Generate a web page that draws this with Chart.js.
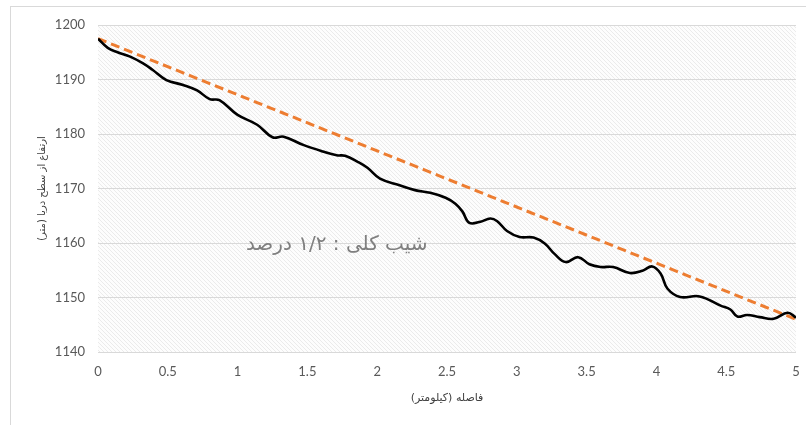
<!DOCTYPE html>
<html>
<head>
<meta charset="utf-8">
<script src="https://cdn.jsdelivr.net/npm/chart.js@4.4.0/dist/chart.umd.min.js"></script>
<style>
    html, body { margin: 0; padding: 0; background: #fff; }
    #wrap {
        position: absolute;
        left: 10px;
        top: 6px;
        width: 806px;
        height: 430px;
        border-left: 1px solid #d9d9d9;
        border-top: 1px solid #d9d9d9;
    }
    #box { position: absolute; left: 0; top: 0; width: 806px; height: 425px; }
</style>
</head>
<body>
<div id="wrap"></div>
<div id="box"><canvas id="profileChart" width="806" height="425"></canvas></div>
<script>
// Data for the chart (distance in km, elevation in m)
const distances = [0, 0.07, 0.14, 0.23, 0.32, 0.39, 0.49, 0.61, 0.71, 0.80, 0.87,
    1.00, 1.14, 1.25, 1.33, 1.47, 1.61, 1.71, 1.77, 1.86, 1.93,
    2.02, 2.16, 2.27, 2.38, 2.49, 2.56, 2.61, 2.66, 2.74, 2.81, 2.86, 2.93,
    3.02, 3.12, 3.20, 3.27, 3.35, 3.44, 3.52, 3.60, 3.69, 3.81, 3.90, 3.97,
    4.03, 4.08, 4.17, 4.31, 4.46, 4.53, 4.58, 4.65, 4.74, 4.84, 4.94, 5.00];
const elevations = [1197.5, 1195.8, 1195.0, 1194.2, 1193.0, 1191.8, 1189.9, 1189.0, 1188.0, 1186.4, 1186.2,
    1183.5, 1181.7, 1179.4, 1179.5, 1178.0, 1176.8, 1176.1, 1176.0, 1174.9, 1173.8,
    1171.8, 1170.6, 1169.7, 1169.2, 1168.3, 1167.2, 1165.8, 1163.7, 1163.9, 1164.5, 1164.0, 1162.2,
    1161.1, 1161.0, 1159.9, 1158.0, 1156.5, 1157.4, 1156.1, 1155.6, 1155.6, 1154.5, 1154.9, 1155.7,
    1154.4, 1151.6, 1150.1, 1150.2, 1148.5, 1147.8, 1146.5, 1146.8, 1146.4, 1146.1, 1147.2, 1146.3];
const trendDistances = [0, 5];
const trendElevations = [1197.5, 1146];
const xTicks = [0, 0.5, 1, 1.5, 2, 2.5, 3, 3.5, 4, 4.5, 5];
const yTicks = [1140, 1150, 1160, 1170, 1180, 1190, 1200];
const slopeNote = { text: 'شیب کلی : ۱/۲ درصد', x: 1.71, y: 1159.6 };

// hatched background for the plot area
function makeHatch() {
    const c = document.createElement('canvas');
    c.width = 4; c.height = 4;
    const g = c.getContext('2d');
    g.fillStyle = '#fdfdfd';
    g.fillRect(0, 0, 4, 4);
    g.strokeStyle = '#ebebeb';
    g.lineWidth = 1;
    g.beginPath();
    g.moveTo(0, 0); g.lineTo(4, 4);
    g.moveTo(-1, 3); g.lineTo(1, 5);
    g.moveTo(3, -1); g.lineTo(5, 1);
    g.stroke();
    return c;
}

const hatchPlugin = {
    id: 'hatch',
    beforeDraw(chart) {
        const { ctx, chartArea } = chart;
        ctx.save();
        ctx.fillStyle = ctx.createPattern(makeHatch(), 'repeat');
        ctx.fillRect(chartArea.left, chartArea.top, chartArea.right - chartArea.left, chartArea.bottom - chartArea.top);
        ctx.restore();
    }
};

const notePlugin = {
    id: 'note',
    afterDatasetsDraw(chart) {
        const { ctx, scales } = chart;
        ctx.save();
        ctx.font = '20px "DejaVu Sans"';
        ctx.fillStyle = '#7f7f7f';
        ctx.textAlign = 'center';
        ctx.textBaseline = 'middle';
        ctx.direction = 'rtl';
        ctx.fillText(slopeNote.text, scales.x.getPixelForValue(slopeNote.x), scales.y.getPixelForValue(slopeNote.y));
        ctx.restore();
    }
};

const ctxProfile = document.getElementById('profileChart').getContext('2d');
const profileChart = new Chart(ctxProfile, {
    type: 'line',
    data: {
        datasets: [{
            label: 'Elevation',
            data: distances.map((d, i) => ({ x: d, y: elevations[i] })),
            borderColor: '#000000',
            borderWidth: 2.6,
            pointRadius: 0,
            tension: 0.4,
            fill: false
        }, {
            label: 'Trend',
            data: trendDistances.map((d, i) => ({ x: d, y: trendElevations[i] })),
            borderColor: '#ed7d31',
            borderWidth: 3,
            borderDash: [9, 5],
            pointRadius: 0,
            fill: false
        }]
    },
    options: {
        responsive: false,
        animation: false,
        layout: { padding: { left: 10, right: 10, top: 25, bottom: 0 } },
        plugins: {
            legend: { display: false },
            tooltip: { enabled: false }
        },
        scales: {
            x: {
                type: 'linear',
                min: 0,
                max: 5,
                afterBuildTicks: (axis) => { axis.ticks = xTicks.map(v => ({ value: v })); },
                afterFit: (axis) => {
                    axis.height = 73;
                    axis.paddingLeft = 0;
                    axis.paddingRight = 0;
                },
                grid: { display: false, drawTicks: false },
                border: { display: false },
                ticks: {
                    color: '#595959', font: { family: 'Lato', size: 13 }, padding: 12,
                    autoSkip: false, maxRotation: 0, callback: (v) => String(v)
                },
                title: {
                    display: true,
                    text: 'فاصله (کیلومتر)',
                    color: '#404040',
                    font: { family: 'DejaVu Sans', size: 11 },
                    padding: { top: 4, bottom: 20 }
                }
            },
            y: {
                min: 1140,
                max: 1200,
                afterBuildTicks: (axis) => { axis.ticks = yTicks.map(v => ({ value: v })); },
                afterFit: (axis) => { axis.width = 88; },
                grid: { color: '#d9d9d9', lineWidth: 1, drawTicks: false },
                border: { display: false },
                ticks: {
                    color: '#595959', font: { family: 'Lato', size: 13 }, padding: 13,
                    autoSkip: false, callback: (v) => String(v)
                },
                title: {
                    display: true,
                    text: 'ارتفاع از سطح دریا (متر)',
                    color: '#404040',
                    font: { family: 'DejaVu Sans', size: 10 },
                    padding: { top: 26, bottom: 0 }
                }
            }
        }
    },
    plugins: [hatchPlugin, notePlugin]
});
</script>
</body>
</html>
